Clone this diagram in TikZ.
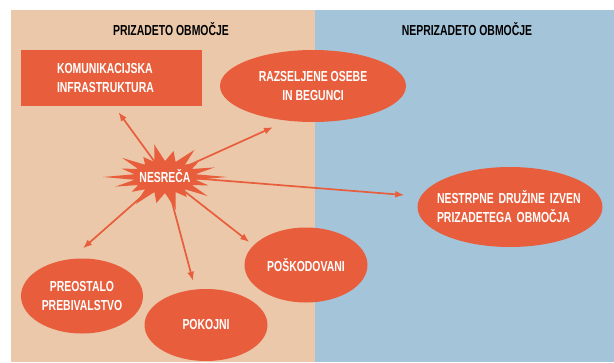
\documentclass[tikz,border=0pt]{standalone}
\usepackage{fontspec}
\newfontfamily\diagfont[FakeStretch=0.72]{Liberation Sans}
\usepackage{tikz}
\usetikzlibrary{arrows.meta,positioning,calc,shapes.geometric}
\definecolor{hitcol}{RGB}{235,200,170}
\definecolor{safecol}{RGB}{164,196,218}
\definecolor{redcol}{RGB}{232,94,60}

\begin{document}
\begin{tikzpicture}[x=1pt, y=-1pt, >={Latex[length=9pt,width=7pt]},
  lbl/.style={font=\diagfont\bfseries\fontsize{14.5}{19}\selectfont, text=white},
  blob/.style={lbl, ellipse, fill=redcol, inner sep=0pt, align=center},
  arr/.style={->, redcol, line width=1.7pt}]
  \useasboundingbox (0,0) rectangle (614,362);

  % podlaga
  \fill[hitcol] (11,10) rectangle (315,362);
  \fill[safecol] (315,10) rectangle (614,362);

  \node[lbl, text=black] (hittitle) at (171,29) {PRIZADETO OBMOČJE};
  \node[lbl, text=black] (safetitle) at (467,29) {NEPRIZADETO OBMOČJE};

  % posledice
  \node[lbl, fill=redcol, minimum width=181pt, minimum height=56pt, inner sep=0pt,
        text width=109pt, align=left] (infra) at (111.5,78) {KOMUNIKACIJSKA\\INFRASTRUKTURA};
  \node[blob, minimum width=186pt, minimum height=72pt] (begunci) at (313,86) {RAZSELJENE OSEBE\\IN BEGUNCI};
  \node[blob, minimum width=185pt, minimum height=80pt, text width=146pt, inner xsep=-15pt,
        align=left] (druzine) at (510,207) {NESTRPNE DRUŽINE IZVEN\\PRIZADETEGA OBMOČJA};
  \node[blob, minimum width=122pt, minimum height=75pt] (ostali) at (82,296) {PREOSTALO\\PREBIVALSTVO};
  \node[blob, minimum width=123pt, minimum height=72pt] (pokojni) at (206,325) {POKOJNI};
  \node[blob, minimum width=123pt, minimum height=75pt] (ranjeni) at (306,265) {POŠKODOVANI};

  % eksplozija
  \fill[redcol, shift={(165,177)}] (62,0)
    \foreach \a/\f in {20/0.75,40/0.9,60/0.7,80/1,100/0.8,120/0.95,140/0.7,160/0.85,180/1,
                       200/0.75,220/0.9,240/0.7,260/1,280/0.8,300/0.95,320/0.7,340/0.85}
      { -- ({cos(\a-10)*31},{sin(\a-10)*16}) -- ({cos(\a)*62*\f},{sin(\a)*33*\f}) }
    -- ({cos(350)*31},{sin(350)*16}) -- cycle;
  \node[lbl] (nesreca) at (165,176) {NESREČA};

  \draw[arr] (nesreca) -- ([shift={(7,6)}]infra.south);
  \draw[arr] (nesreca) -- ([shift={(-40,5)}]begunci.south);
  \draw[arr] (nesreca) -- ([shift={(-13,-12)}]druzine.west);
  \draw[arr] (nesreca) -- ([shift={(1,-10)}]ostali.north);
  \draw[arr] (nesreca) -- ([shift={(-13,-8)}]pokojni.north);
  \draw[arr] (nesreca) -- ([shift={(5,-23)}]ranjeni.west);
\end{tikzpicture}
\end{document}
